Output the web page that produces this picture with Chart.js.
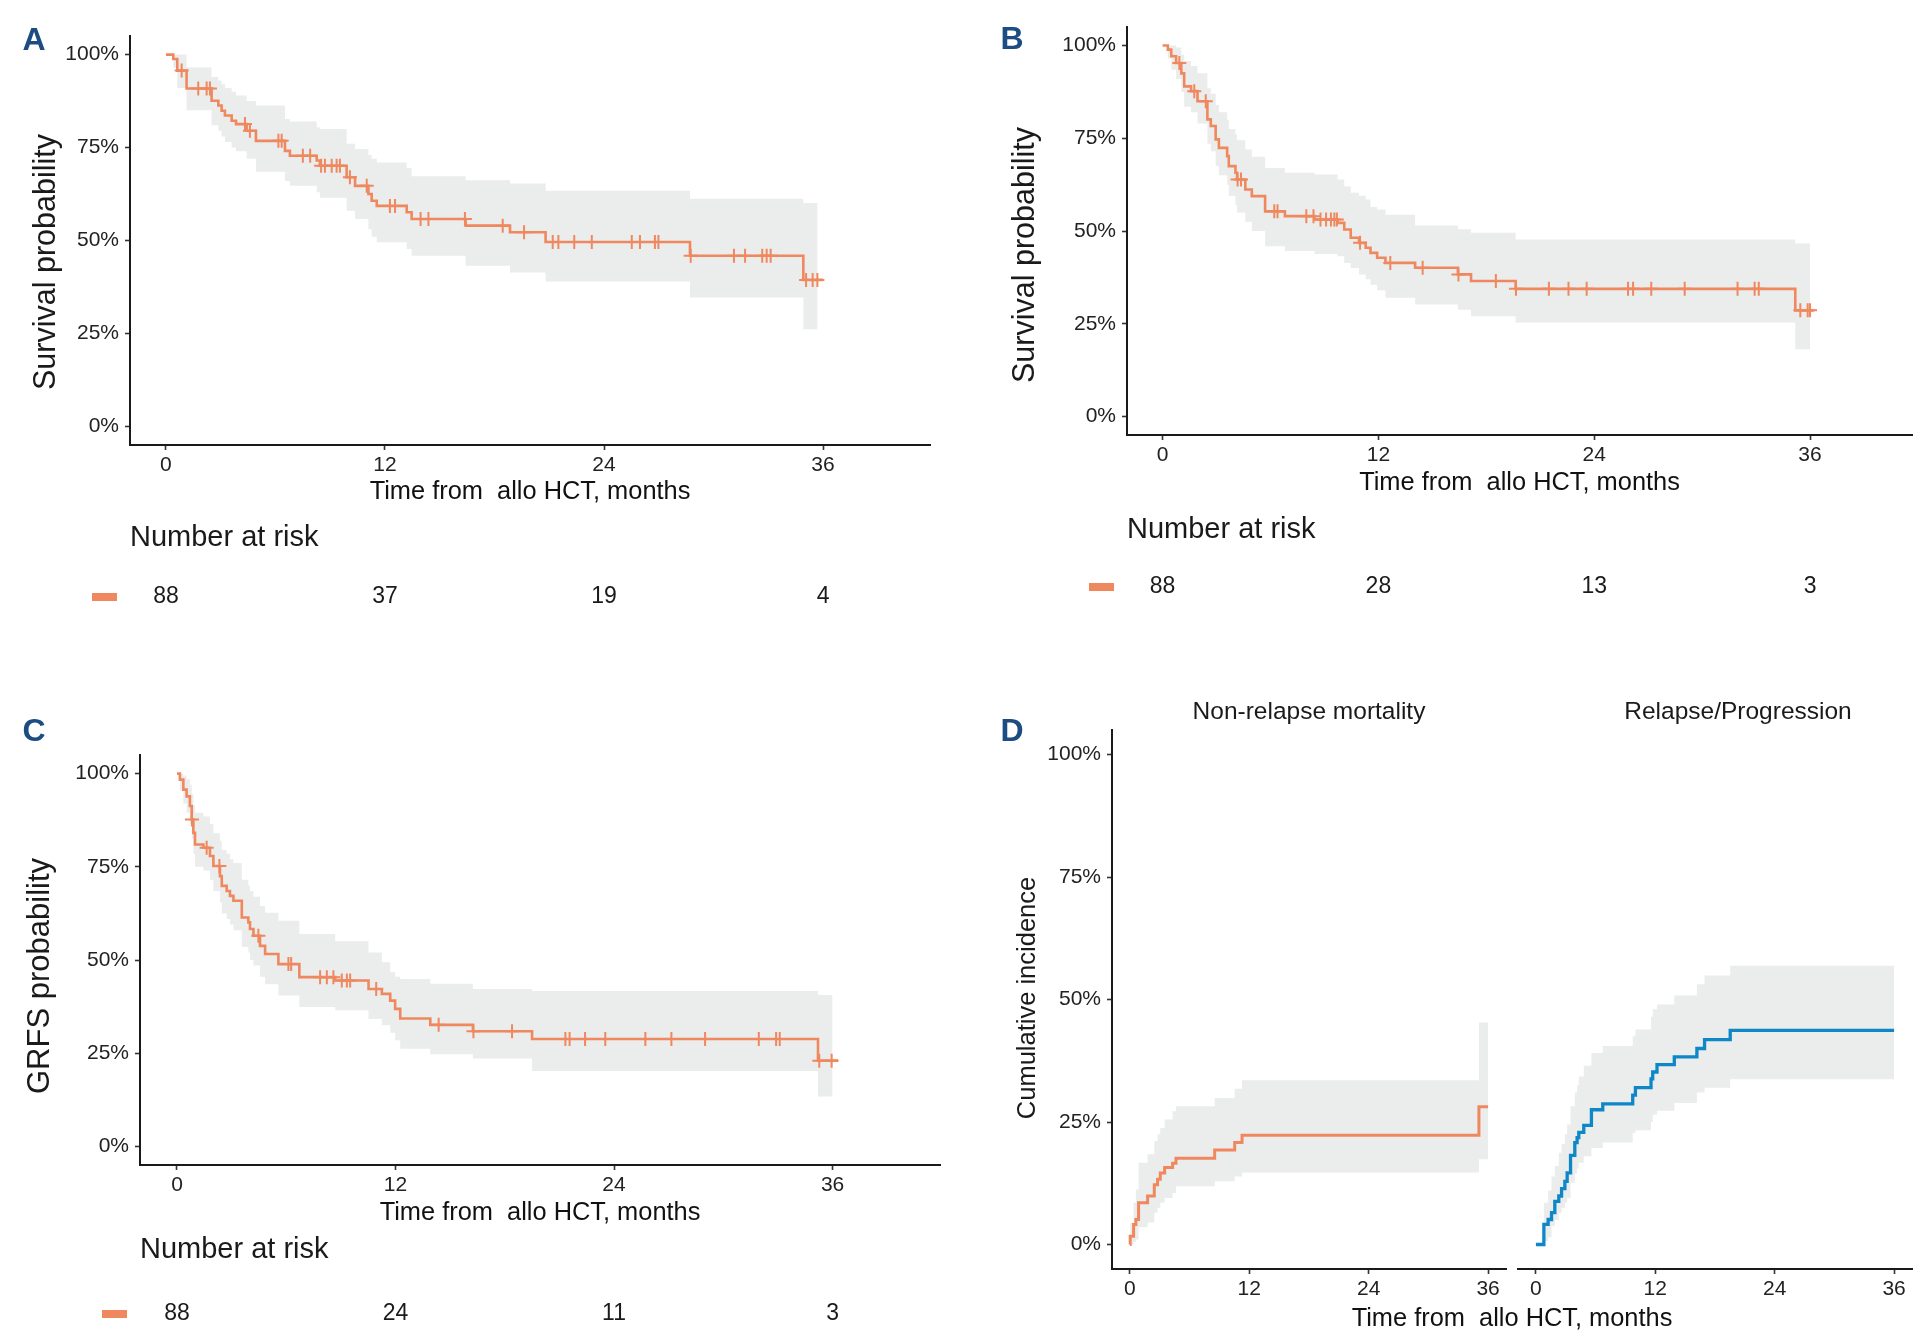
<!DOCTYPE html>
<html>
<head>
<meta charset="utf-8">
<title>Survival curves</title>
<script src="https://cdn.jsdelivr.net/npm/chart.js@4.4.1/dist/chart.umd.min.js"></script>
<style>
  html, body { margin: 0; padding: 0; background: #fff; overflow: hidden; }
  #page { position: relative; width: 1921px; height: 1342px; }
  canvas { position: absolute; }
  .xtitle { position: absolute; font: 25.4px "Liberation Sans", Arial, sans-serif; color: #111;
            transform: translateX(-50%); white-space: pre; line-height: 30px; }
</style>
</head>
<body>
<div id="page">
  <canvas id="chartA" style="left:0;top:0;width:960px;height:640px" width="960" height="640"></canvas>
  <canvas id="chartB" style="left:960px;top:0;width:961px;height:640px" width="961" height="640"></canvas>
  <canvas id="chartC" style="left:0;top:680px;width:960px;height:662px" width="960" height="662"></canvas>
  <canvas id="chartD1" style="left:960px;top:680px;width:560px;height:662px" width="560" height="662"></canvas>
  <canvas id="chartD2" style="left:1506px;top:680px;width:415px;height:662px" width="415" height="662"></canvas>
  <div class="xtitle" style="left:1512px;top:1302px">Time from  allo HCT, months</div>
</div>
<script>
const FONT = '"Liberation Sans", Arial, sans-serif';
const ORANGE = '#F0885F';
const BLUE = '#0D87C6';
const BAND = '#EBECEC';
const INK = '#1a1a1a';

const xTicks = [0, 12, 24, 36];
const yTicks = [0, 25, 50, 75, 100];
const riskTimes = [0, 12, 24, 36];

// A - overall survival
const osTimes = [0, 0.4, 0.62, 1.13, 2.5, 2.87, 3.05, 3.23, 3.6, 3.84, 4.42, 4.93, 6.52, 6.79, 8.26, 8.44, 9.9, 10.36, 11.09, 11.27, 11.55, 13.19, 13.46, 16.42, 18.85, 20.8, 28.71, 34.92, 36.0];
const osSurv = [100, 98.8, 95.7, 90.9, 87.6, 86.3, 84.9, 83.6, 82.2, 81.3, 79.5, 76.8, 74.1, 72.8, 71.5, 70.1, 67.0, 64.7, 62.5, 60.7, 59.3, 57.6, 55.8, 54.0, 52.2, 49.6, 45.9, 39.4, 39.4];
const osLower = [100, 96.5, 91, 85, 81, 79.5, 78, 76.5, 75, 74, 72, 68.5, 66, 64.7, 63, 61.5, 58, 55.8, 53, 51, 49.5, 47.7, 45.9, 43.2, 41.4, 39.0, 34.7, 26.1, 26.1];
const osUpper = [100, 100, 100, 96.5, 94, 93, 92, 91, 90, 89, 87.5, 86.3, 82.7, 82, 80.4, 80, 76, 74.6, 73, 72, 71, 69.5, 67.3, 66.2, 65.3, 63.4, 61.2, 60.1, 60.1];
const osBandEnd = 35.7;
const osCensor = [0.86, 1.77, 2.23, 2.41, 4.33, 4.6, 6.16, 6.34, 7.5, 7.9, 8.5, 8.71, 9.08, 9.35, 9.53, 10.08, 11.0, 12.27, 12.55, 13.95, 14.38, 16.38, 18.45, 19.62, 21.19, 21.5, 22.37, 23.33, 25.52, 25.97, 26.79, 26.98, 28.75, 31.12, 31.73, 32.67, 32.91, 33.13, 35.07, 35.43, 35.69];
const osRisk = [88, 37, 19, 4];

// B
const pfsTimes = [0, 0.29, 0.48, 0.75, 1.04, 1.2, 1.58, 1.94, 2.49, 2.68, 2.95, 3.13, 3.59, 3.68, 4.05, 4.14, 4.6, 4.96, 5.7, 6.8, 8.45, 9.73, 10.1, 10.46, 10.92, 11.29, 11.56, 11.93, 12.39, 14.04, 16.42, 17.15, 19.63, 35.18, 36.2];
const pfsSurv = [100, 98.9, 97.1, 95.3, 92.5, 89.0, 87.7, 85.0, 80.1, 78.3, 74.7, 72.4, 70.2, 67.5, 65.7, 63.9, 61.2, 59.4, 55.3, 54.0, 53.1, 52.2, 50.4, 48.2, 46.8, 45.5, 44.1, 42.8, 41.4, 40.1, 38.3, 36.5, 34.4, 28.6, 28.6];
const pfsLower = [100, 96.5, 93.5, 91, 87.5, 83.5, 82, 79, 73.5, 71.5, 67.5, 65, 62.5, 59.5, 57, 55, 52.5, 50, 45.9, 44.6, 43.8, 43.2, 41.4, 40, 38.3, 37, 35.5, 34, 32.0, 30.2, 28.8, 27.0, 25.3, 18.1, 18.1];
const pfsUpper = [100, 100, 100, 99.5, 97.5, 95.8, 94.5, 92.5, 88.5, 87, 84, 82, 80, 77.5, 76, 74.5, 72, 70, 67.0, 65.7, 65.2, 63.9, 62, 60.3, 59.5, 58.5, 56.5, 55.8, 54.4, 51.5, 50.5, 49.5, 47.7, 46.6, 46.6];
const pfsBandEnd = 36.0;
const pfsCensor = [0.93, 1.76, 2.4, 4.17, 4.36, 6.21, 6.39, 7.99, 8.39, 8.78, 9.09, 9.36, 9.55, 9.69, 10.98, 12.66, 14.46, 16.45, 18.53, 19.65, 21.48, 22.57, 23.58, 25.88, 26.16, 27.17, 29.03, 31.97, 32.92, 33.15, 35.46, 35.87, 36.0];
const pfsRisk = [88, 28, 13, 3];

// C - GRFS
const grfsTimes = [0, 0.16, 0.35, 0.53, 0.71, 0.81, 0.9, 0.99, 1.45, 1.81, 2.0, 2.36, 2.46, 2.73, 2.91, 3.1, 3.56, 3.92, 4.01, 4.2, 4.56, 4.84, 5.57, 6.72, 8.69, 10.52, 11.25, 11.71, 11.98, 12.26, 13.91, 16.25, 19.5, 35.2, 36.3];
const grfsSurv = [100, 98.4, 95.7, 93.9, 91.3, 87.7, 84.1, 81.0, 80.1, 77.9, 75.2, 72.5, 69.9, 68.5, 67.2, 65.9, 61.4, 60.1, 58.3, 56.5, 53.8, 51.6, 48.9, 45.4, 44.5, 42.2, 40.9, 39.1, 36.9, 34.3, 32.6, 30.9, 28.8, 23.0, 23.0];
const grfsLower = [100, 95.5, 92, 89.5, 86.5, 82.5, 78.5, 75, 74, 71.5, 68.5, 65.5, 62.5, 61, 59.5, 58, 53.5, 52, 50, 48.5, 45.5, 43.5, 40.5, 37.4, 36.5, 34.2, 32.5, 30.5, 28.5, 26.2, 24.7, 23.6, 20.2, 13.4, 13.4];
const grfsUpper = [100, 100, 99.5, 98.5, 97, 94.5, 91.5, 89.5, 88.5, 86.5, 84, 82, 79.5, 78.5, 77, 76, 71.5, 70, 68.5, 67, 64.5, 62.7, 60.5, 57.0, 55, 52.0, 49.4, 46.7, 45.5, 44.9, 43.6, 42.2, 41.7, 40.6, 40.6];
const grfsBandEnd = 36.0;
const grfsCensor = [0.82, 1.63, 2.33, 4.47, 6.12, 6.27, 7.86, 8.23, 8.59, 9.05, 9.33, 9.51, 10.94, 14.37, 16.28, 18.4, 21.33, 21.56, 22.41, 23.52, 25.72, 27.15, 29.0, 31.95, 32.9, 33.1, 35.27, 35.95];
const grfsRisk = [88, 24, 11, 3];

// D - cumulative incidence
const nrmTimes = [0, 0.03, 0.37, 0.6, 0.87, 1.78, 2.45, 2.78, 3.05, 3.49, 4.29, 4.63, 8.52, 10.53, 11.27, 35.08, 36.0];
const nrmInc = [0, 1.7, 4.1, 5.1, 8.5, 9.9, 12.2, 13.3, 14.6, 15.7, 16.6, 17.6, 19.3, 20.8, 22.3, 28.1, 28.1];
const nrmLower = [0, 0, 0.5, 1, 3.5, 4.5, 6.5, 7.5, 8.5, 9.5, 10.5, 11.9, 12.9, 13.9, 14.7, 17.4, 17.4];
const nrmUpper = [0, 4.4, 8.5, 11.2, 16.7, 18.4, 21.1, 22.5, 23.8, 25.5, 27.2, 28.2, 29.9, 31.8, 33.5, 45.3, 45.3];
const nrmBandEnd = 36.0;

const relTimes = [0, 0.8, 1.23, 1.57, 1.9, 2.3, 2.58, 2.91, 3.14, 3.48, 3.91, 4.14, 4.31, 4.81, 5.58, 6.72, 9.73, 10.0, 11.57, 11.74, 12.17, 13.91, 16.18, 16.95, 19.53, 36.0];
const relInc = [0, 4.1, 5.1, 6.5, 8.8, 9.9, 11.4, 12.9, 14.6, 18.2, 20.8, 21.8, 22.9, 24.3, 27.5, 28.7, 30.5, 32.0, 33.8, 35.2, 36.7, 38.3, 40.0, 41.8, 43.7, 43.7];
const relLower = [0, 0.7, 1.5, 3.7, 5, 6.5, 7.5, 8.5, 9.5, 12.6, 14.5, 15.5, 16.7, 18, 19.7, 20.8, 22.8, 23.3, 25, 26.5, 27.3, 28.9, 31.0, 32.0, 33.7, 33.7];
const relUpper = [0, 8.5, 11, 13.9, 16, 18.7, 20.5, 22.5, 24.5, 28.2, 31, 32.5, 34.3, 36.5, 39.1, 40.5, 42.5, 43.9, 46.5, 48, 49.0, 50.8, 53.1, 54.9, 56.9, 56.9];
const relBandEnd = 36.0;

// value of a step curve at time t
function levelAt(times, vals, t) {
  let v = vals[0];
  for (let i = 0; i < times.length; i++) if (times[i] <= t) v = vals[i];
  return v;
}

function stepData(times, vals) {
  return times.map((t, i) => ({ x: t, y: vals[i] }));
}

function bandData(times, vals, end) {
  const d = stepData(times, vals);
  d[d.length - 1] = { x: end, y: vals[vals.length - 1] };
  return d;
}

function curveSets(times, est, lower, upper, bandEnd, censor, color, lw) {
  const sets = [
    { data: bandData(times, upper, bandEnd), stepped: 'before', fill: '+1', backgroundColor: BAND,
      borderColor: 'rgba(0,0,0,0)', borderWidth: 1, pointRadius: 0, order: 2 },
    { data: bandData(times, lower, bandEnd), stepped: 'before', fill: false,
      borderColor: 'rgba(0,0,0,0)', borderWidth: 1, pointRadius: 0, order: 3 },
    { data: stepData(times, est), stepped: 'before', fill: false, borderColor: color,
      borderWidth: lw, pointRadius: 0, order: 1 }
  ];
  if (censor) {
    sets.push({
      data: censor.map(t => ({ x: t, y: levelAt(times, est, t) })),
      showLine: false, pointStyle: 'cross', pointRadius: 7, pointBorderWidth: 2,
      pointBorderColor: color, borderColor: color, order: 0
    });
  }
  return sets;
}

// texts around the panels: letter, y title, facet title, risk table
const decor = {
  id: 'decor',
  afterDraw(chart, args, o) {
    const ctx = chart.ctx;
    const area = chart.chartArea;
    ctx.save();
    ctx.textBaseline = 'middle';
    if (o.letter) {
      ctx.font = 'bold 32px ' + FONT;
      ctx.fillStyle = '#1B4C82';
      ctx.textAlign = 'center';
      ctx.fillText(o.letter, o.letterX, o.letterY);
    }
    if (o.yTitle) {
      ctx.save();
      ctx.translate(o.yTitleX, o.yTitleY);
      ctx.rotate(-Math.PI / 2);
      ctx.font = o.yTitleSize + 'px ' + FONT;
      ctx.fillStyle = INK;
      ctx.textAlign = 'center';
      ctx.fillText(o.yTitle, 0, 0);
      ctx.restore();
    }
    if (o.facet) {
      ctx.font = '24.5px ' + FONT;
      ctx.fillStyle = INK;
      ctx.textAlign = 'center';
      const fx = o.facetX !== undefined ? o.facetX : (area.left + area.right) / 2;
      ctx.fillText(o.facet, fx, o.facetY);
    }
    if (o.risk) {
      const xs = chart.scales.x;
      ctx.font = '29px ' + FONT;
      ctx.fillStyle = INK;
      ctx.textAlign = 'left';
      ctx.fillText('Number at risk', area.left, o.riskTitleY);
      ctx.fillStyle = ORANGE;
      ctx.fillRect(area.left - 38, o.riskRowY - 4, 25, 8);
      ctx.font = '23px ' + FONT;
      ctx.fillStyle = INK;
      ctx.textAlign = 'center';
      o.risk.forEach((n, i) => ctx.fillText(String(n), xs.getPixelForValue(riskTimes[i]), o.riskRowY));
    }
    ctx.restore();
  }
};

function makeChart(id, cfg) {
  const tickFont = { family: FONT, size: 21 };
  return new Chart(document.getElementById(id), {
    type: 'line',
    data: { datasets: cfg.datasets },
    plugins: [decor],
    options: {
      responsive: false,
      animation: false,
      events: [],
      layout: { padding: cfg.padding },
      plugins: {
        legend: { display: false },
        tooltip: { enabled: false },
        decor: cfg.decor
      },
      scales: {
        x: {
          type: 'linear',
          min: cfg.xMin,
          max: cfg.xMax,
          afterBuildTicks: s => { s.ticks = xTicks.map(v => ({ value: v })); },
          afterFit: s => { s.height = cfg.xHeight; },
          grid: { drawOnChartArea: false, drawTicks: true, tickLength: 5, tickWidth: 1.6, tickColor: '#333' },
          border: { display: true, color: INK, width: 2 },
          ticks: { color: '#222', font: tickFont, padding: 3, maxRotation: 0, autoSkip: false },
          title: {
            display: !!cfg.xTitle,
            text: cfg.xTitle || '',
            color: '#111',
            font: { family: FONT, size: 25.4 },
            padding: { top: 0, bottom: 0 }
          }
        },
        y: {
          type: 'linear',
          display: cfg.yShow,
          min: -5,
          max: 105,
          afterBuildTicks: s => { s.ticks = yTicks.map(v => ({ value: v })); },
          afterFit: s => { s.width = cfg.yWidth; },
          grid: { drawOnChartArea: false, drawTicks: true, tickLength: 5, tickWidth: 1.6, tickColor: '#333' },
          border: { display: true, color: INK, width: 2 },
          ticks: { color: '#222', font: tickFont, padding: 6, callback: v => v + '%' }
        }
      }
    }
  });
}

const X_TITLE = 'Time from  allo HCT, months';

makeChart('chartA', {
  datasets: curveSets(osTimes, osSurv, osLower, osUpper, osBandEnd, osCensor, ORANGE, 2.6),
  padding: { top: 36, left: 0, right: 30, bottom: 133 },
  xMin: -1.97, xMax: 41.86, xHeight: 62, yWidth: 130, yShow: true, xTitle: X_TITLE,
  decor: { letter: 'A', letterX: 34, letterY: 41, yTitle: 'Survival probability', yTitleX: 47, yTitleY: 262,
           yTitleSize: 30.5, risk: osRisk, riskTitleY: 538, riskRowY: 597 }
});

makeChart('chartB', {
  datasets: curveSets(pfsTimes, pfsSurv, pfsLower, pfsUpper, pfsBandEnd, pfsCensor, ORANGE, 2.6),
  padding: { top: 27, left: 0, right: 0, bottom: 142 },
  xMin: -1.98, xMax: 41.67, xHeight: 63, yWidth: 167, yShow: true, xTitle: X_TITLE,
  decor: { letter: 'B', letterX: 52, letterY: 40, yTitle: 'Survival probability', yTitleX: 66, yTitleY: 255,
           yTitleSize: 30.5, risk: pfsRisk, riskTitleY: 530, riskRowY: 587 }
});

makeChart('chartC', {
  datasets: curveSets(grfsTimes, grfsSurv, grfsLower, grfsUpper, grfsBandEnd, grfsCensor, ORANGE, 2.6),
  padding: { top: 75, left: 0, right: 20, bottom: 114 },
  xMin: -2.03, xMax: 41.9, xHeight: 63, yWidth: 140, yShow: true, xTitle: X_TITLE,
  decor: { letter: 'C', letterX: 34, letterY: 52, yTitle: 'GRFS probability', yTitleX: 40, yTitleY: 296,
           yTitleSize: 31, risk: grfsRisk, riskTitleY: 570, riskRowY: 634 }
});

makeChart('chartD1', {
  datasets: curveSets(nrmTimes, nrmInc, nrmLower, nrmUpper, nrmBandEnd, null, ORANGE, 3),
  padding: { top: 50, left: 0, right: 14, bottom: 33 },
  xMin: -1.8, xMax: 37.8, xHeight: 40, yWidth: 152, yShow: true,
  decor: { letter: 'D', letterX: 52, letterY: 52, yTitle: 'Cumulative incidence', yTitleX: 68, yTitleY: 318,
           yTitleSize: 25.5, facet: 'Non-relapse mortality', facetY: 32 }
});

makeChart('chartD2', {
  datasets: curveSets(relTimes, relInc, relLower, relUpper, relBandEnd, null, BLUE, 3.3),
  padding: { top: 50, left: 12, right: 9, bottom: 33 },
  xMin: -1.8, xMax: 37.8, xHeight: 40, yWidth: 0, yShow: false,
  decor: { facet: 'Relapse/Progression', facetX: 232, facetY: 32 }
});
</script>
</body>
</html>
